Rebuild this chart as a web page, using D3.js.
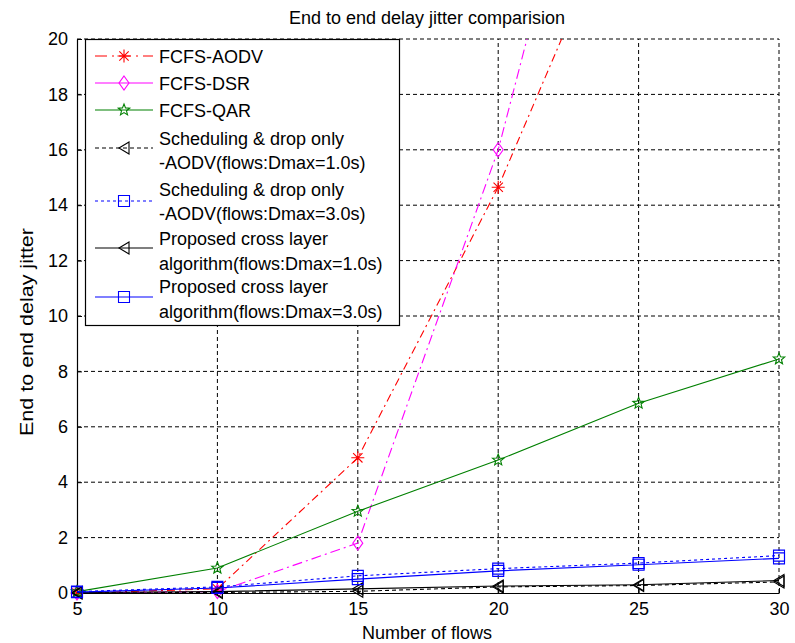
<!DOCTYPE html>
<html>
<head>
<meta charset="utf-8">
<script src="https://cdn.jsdelivr.net/npm/d3@7"></script>
<style>
  html, body { margin: 0; padding: 0; background: #fff; }
  svg { display: block; font-family: "Liberation Sans", Arial, sans-serif; }
</style>
</head>
<body>
<svg id="chart" width="795" height="643"></svg>
<script>
// Number of flows on the x axis
const flows = [5, 10, 15, 20, 25, 30];
const xTicks = [5, 10, 15, 20, 25, 30];
const yTicks = [0, 2, 4, 6, 8, 10, 12, 14, 16, 18, 20];

// End to end delay jitter for each scheme
const fcfsAodv = [0.0, 0.15, 4.88, 14.65, 26.5, 38.0];
const fcfsDsr = [0.0, 0.05, 1.8, 16.0, 35.5, 55.0];
const fcfsQar = [0.05, 0.9, 2.95, 4.8, 6.85, 8.45];
const schedAodv1 = [0.0, 0.02, 0.06, 0.22, 0.27, 0.4];
const schedAodv3 = [0.05, 0.22, 0.62, 0.88, 1.08, 1.35];
const proposed1 = [0.02, 0.05, 0.15, 0.25, 0.3, 0.45];
const proposed3 = [0.03, 0.18, 0.5, 0.8, 1.02, 1.25];

const seriesNames = [
  ["FCFS-AODV"],
  ["FCFS-DSR"],
  ["FCFS-QAR"],
  ["Scheduling & drop only", "-AODV(flows:Dmax=1.0s)"],
  ["Scheduling & drop only", "-AODV(flows:Dmax=3.0s)"],
  ["Proposed cross layer", "algorithm(flows:Dmax=1.0s)"],
  ["Proposed cross layer", "algorithm(flows:Dmax=3.0s)"]
];
const seriesValues = [fcfsAodv, fcfsDsr, fcfsQar, schedAodv1, schedAodv3, proposed1, proposed3];
const seriesColors = ["#ff0000", "#ff00ff", "#008000", "#000000", "#0000ff", "#000000", "#0000ff"];
const seriesDash = ["8,4,2,4", "10,4,2,4", null, "4,3", "3,3", null, null];
const legendDash = ["12,5,2,5", null, null, "4,3", "3,3", null, null];
const seriesMarker = ["asterisk", "diamond", "pentagram", "triangleLeft", "square", "triangleLeft", "square"];

const W = 795, H = 643;
const margin = { left: 77, right: 16, top: 39, bottom: 50 };
const svg = d3.select("#chart");

const x = d3.scaleLinear().domain([5, 30]).range([margin.left, W - margin.right]);
const y = d3.scaleLinear().domain([0, 20]).range([H - margin.bottom, margin.top]);

// marker shapes, drawn around the origin
function markerPath(kind) {
  const p = d3.path();
  if (kind === "asterisk") {
    const r = 6.5, d = r * 0.72;
    p.moveTo(-r, 0); p.lineTo(r, 0);
    p.moveTo(0, -r); p.lineTo(0, r);
    p.moveTo(-d, -d); p.lineTo(d, d);
    p.moveTo(-d, d); p.lineTo(d, -d);
  } else if (kind === "diamond") {
    p.moveTo(0, -7); p.lineTo(5, 0); p.lineTo(0, 7); p.lineTo(-5, 0); p.closePath();
  } else if (kind === "square") {
    p.rect(-5.5, -5.5, 11, 11);
  } else if (kind === "triangleLeft") {
    p.moveTo(-5, 0); p.lineTo(5, -6); p.lineTo(5, 6); p.closePath();
  } else if (kind === "pentagram") {
    const R = 6, r = 2.6;
    for (let i = 0; i < 10; i++) {
      const a = -Math.PI / 2 + i * Math.PI / 5;
      const rr = i % 2 === 0 ? R : r;
      const px = rr * Math.cos(a), py = rr * Math.sin(a);
      if (i === 0) p.moveTo(px, py); else p.lineTo(px, py);
    }
    p.closePath();
  }
  return p.toString();
}

// clip region for the plotted lines
svg.append("defs").append("clipPath").attr("id", "plotClip")
  .append("rect")
  .attr("x", margin.left).attr("y", margin.top)
  .attr("width", W - margin.left - margin.right)
  .attr("height", H - margin.top - margin.bottom);

// dashed grid
const grid = svg.append("g");
grid.selectAll("line.gx").data(xTicks.filter(v => v !== 5)).enter().append("line")
  .attr("x1", d => x(d)).attr("x2", d => x(d))
  .attr("y1", y(0)).attr("y2", y(20))
  .attr("stroke", "#000").attr("stroke-width", 1).attr("stroke-dasharray", "4,3");
grid.selectAll("line.gy").data(yTicks.filter(v => v !== 0)).enter().append("line")
  .attr("y1", d => y(d)).attr("y2", d => y(d))
  .attr("x1", x(5)).attr("x2", x(30))
  .attr("stroke", "#000").attr("stroke-width", 1).attr("stroke-dasharray", "4,3");

// axes with inward ticks
const xAxis = d3.axisBottom(x).tickValues(xTicks).tickSizeInner(-5).tickSizeOuter(0).tickPadding(9);
const yAxis = d3.axisLeft(y).tickValues(yTicks).tickSizeInner(-5).tickSizeOuter(0).tickPadding(9);

const gx = svg.append("g").attr("transform", `translate(0,${y(0)})`).call(xAxis);
const gy = svg.append("g").attr("transform", `translate(${x(5)},0)`).call(yAxis);
[gx, gy].forEach(g => {
  g.select(".domain").attr("stroke", "#000").attr("stroke-width", 1.2);
  g.selectAll(".tick line").attr("stroke", "#000");
  g.selectAll(".tick text").attr("fill", "#000")
    .style("font-family", "'Liberation Sans', Arial, sans-serif").style("font-size", "18px");
});
gx.selectAll(".tick text").attr("dy", "0.71em");

// series lines and markers
const line = d3.line().x((d, i) => x(flows[i])).y(d => y(d));
const plot = svg.append("g");
seriesValues.forEach((vals, k) => {
  plot.append("path")
    .attr("d", line(vals))
    .attr("clip-path", "url(#plotClip)")
    .attr("fill", "none")
    .attr("stroke", seriesColors[k])
    .attr("stroke-width", 1.1)
    .attr("stroke-dasharray", seriesDash[k]);
  plot.selectAll(null).data(vals.map((v, i) => [flows[i], v]).filter(d => d[1] <= 20))
    .enter().append("path")
    .attr("transform", d => `translate(${x(d[0])},${y(d[1])})`)
    .attr("d", markerPath(seriesMarker[k]))
    .attr("fill", "none")
    .attr("stroke", seriesColors[k])
    .attr("stroke-width", 1.1);
});

// title and axis labels
svg.append("text").attr("x", 427).attr("y", 24).attr("text-anchor", "middle")
  .style("font-size", "18px").text("End to end delay jitter comparision");
svg.append("text").attr("x", 427).attr("y", 639).attr("text-anchor", "middle")
  .style("font-size", "18px").text("Number of flows");
svg.append("text").attr("transform", "rotate(-90)")
  .attr("x", -332).attr("y", 33).attr("text-anchor", "middle")
  .attr("textLength", 208).attr("lengthAdjust", "spacingAndGlyphs")
  .style("font-size", "18px").text("End to end delay jitter");

// legend
const legend = svg.append("g");
legend.append("rect").attr("x", 85.5).attr("y", 39.5).attr("width", 314).attr("height", 286)
  .attr("fill", "#fff").attr("stroke", "#000").attr("stroke-width", 1.2);
const markerY = [56, 83, 110, 148, 201, 248, 297];
const textBase = [[63], [90], [117], [145, 169], [196, 220], [245, 270], [293, 318]];
seriesNames.forEach((names, k) => {
  const my = markerY[k];
  legend.append("line").attr("x1", 95).attr("x2", 153).attr("y1", my).attr("y2", my)
    .attr("stroke", seriesColors[k]).attr("stroke-width", 1.1)
    .attr("stroke-dasharray", legendDash[k]);
  legend.append("path").attr("transform", `translate(124,${my})`)
    .attr("d", markerPath(seriesMarker[k]))
    .attr("fill", "none").attr("stroke", seriesColors[k]).attr("stroke-width", 1.1);
  names.forEach((t, j) => {
    legend.append("text").attr("x", 159).attr("y", textBase[k][j])
      .style("font-size", "18px").text(t);
  });
});
</script>
</body>
</html>
